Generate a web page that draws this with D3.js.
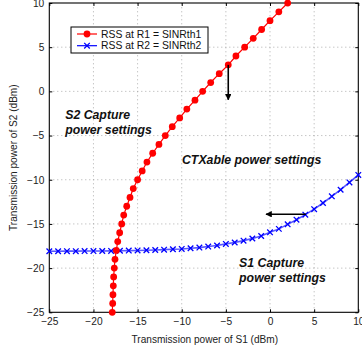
<!DOCTYPE html>
<html lang="en">
<head>
<meta charset="utf-8">
<title>Capture regions</title>
<script src="https://cdn.jsdelivr.net/npm/d3@7"></script>
<style>
  body { margin: 0; background: #fff; }
  svg { display: block; font-family: "Liberation Sans", Arial, sans-serif; }
  .grid line { stroke: #999; stroke-dasharray: 1,3; stroke-width: 0.8; }
  .note { font-weight: bold; font-style: italic; font-size: 12.3px; fill: #111; }
</style>
</head>
<body>
<svg class="chart"></svg>
<script>
const redS2 = d3.range(-25, 11, 1);
const redS1 = [-17.87, -17.82, -17.79, -17.75, -17.71, -17.64, -17.56, -17.41, -17.25, -17.03,
               -16.8, -16.57, -16.23, -15.86, -15.49, -15.0, -14.48, -13.94, -13.29, -12.58,
               -11.86, -11.07, -10.23, -9.42, -8.5, -7.63, -6.72, -5.75, -4.73, -3.86,
               -2.87, -1.9, -0.95, 0.0, 1.0, 2.0];

// blue curve: S1 power (x) every 1 dB, S2 power
const blueS1 = d3.range(-25, 11, 1);
const blueS2 = [-18.09, -18.09, -18.08, -18.08, -18.07, -18.07, -18.06, -18.05, -18.04, -18.02,
                -18.0, -17.98, -17.95, -17.91, -17.87, -17.83, -17.75, -17.68, -17.56, -17.44,
                -17.26, -17.1, -16.89, -16.65, -16.37, -15.95, -15.56, -15.05, -14.52, -13.95,
                -13.33, -12.63, -11.88, -11.13, -10.3, -9.45];

const xTicks = [-25, -20, -15, -10, -5, 0, 5, 10];
const yTicks = [-25, -20, -15, -10, -5, 0, 5, 10];
const legendLabels = ["RSS at R1 = SINRth1", "RSS at R2 = SINRth2"];

const W = 362, H = 354;
const m = {left: 49.3, right: 3.7, top: 3, bottom: 41.7};

const svg = d3.select(".chart").attr("width", W).attr("height", H);

const x = d3.scaleLinear().domain([-25, 10]).range([m.left, W - m.right]);
const y = d3.scaleLinear().domain([-25, 10]).range([H - m.bottom, m.top]);

// grid
const grid = svg.append("g").attr("class", "grid");
grid.selectAll(".gx").data(xTicks.slice(1, -1)).enter().append("line")
  .attr("x1", d => x(d)).attr("x2", d => x(d))
  .attr("y1", y(-25)).attr("y2", y(10));
grid.selectAll(".gy").data(yTicks.slice(1, -1)).enter().append("line")
  .attr("y1", d => y(d)).attr("y2", d => y(d))
  .attr("x1", x(-25)).attr("x2", x(10));

// axes (ticks pointing inward, matlab style)
const fmt = d3.format("");
const axB = svg.append("g").attr("transform", `translate(0,${y(-25)})`)
  .call(d3.axisBottom(x).tickValues(xTicks).tickSize(-3).tickPadding(5).tickFormat(fmt));
const axL = svg.append("g").attr("transform", `translate(${x(-25)},0)`)
  .call(d3.axisLeft(y).tickValues(yTicks).tickSize(-3).tickPadding(5).tickFormat(fmt));
const axT = svg.append("g").attr("transform", `translate(0,${y(10)})`)
  .call(d3.axisTop(x).tickValues(xTicks).tickSize(-3).tickFormat(""));
const axR = svg.append("g").attr("transform", `translate(${x(10)},0)`)
  .call(d3.axisRight(y).tickValues(yTicks).tickSize(-3).tickFormat(""));
[axB, axL, axT, axR].forEach(a => {
  a.select(".domain").remove();
  a.selectAll("line").attr("stroke", "#000");
  a.selectAll("text").attr("font-size", 10.2).attr("fill", "#222")
    .attr("font-family", "Liberation Sans, Arial, sans-serif");
});
axB.selectAll("text").attr("dy", "0.8em");

svg.append("rect")
  .attr("x", x(-25)).attr("y", y(10))
  .attr("width", x(10) - x(-25)).attr("height", y(-25) - y(10))
  .attr("fill", "none").attr("stroke", "#000").attr("stroke-width", 1.1);

// axis titles
svg.append("text")
  .attr("x", (x(-25) + x(10)) / 2 + 1).attr("y", 343)
  .attr("text-anchor", "middle").attr("font-size", 10.1).attr("fill", "#222")
  .text("Transmission power of S1 (dBm)");
svg.append("text")
  .attr("transform", `translate(17,${(y(-25) + y(10)) / 2}) rotate(-90)`)
  .attr("text-anchor", "middle").attr("font-size", 10.1).attr("fill", "#222")
  .text("Transmission power of S2 (dBm)");

// curves
const redPts = redS2.map((v, i) => [redS1[i], v]);
const bluePts = blueS1.map((v, i) => [v, blueS2[i]]);
const line = d3.line().x(d => x(d[0])).y(d => y(d[1]));

svg.append("path").datum(bluePts).attr("d", line)
  .attr("fill", "none").attr("stroke", "#3a3aff").attr("stroke-width", 1.6).attr("stroke-opacity", 0.85);
const cross = d3.symbol().type(d3.symbolX).size(22);
svg.append("g").selectAll("path").data(bluePts).enter().append("path")
  .attr("transform", d => `translate(${x(d[0])},${y(d[1])})`)
  .attr("d", cross).attr("fill", "none").attr("stroke", "#0000ff").attr("stroke-width", 1.3);

svg.append("path").datum(redPts).attr("d", line)
  .attr("fill", "none").attr("stroke", "#ff0000").attr("stroke-width", 1.2);
svg.append("g").selectAll("circle").data(redPts).enter().append("circle")
  .attr("cx", d => x(d[0])).attr("cy", d => y(d[1])).attr("r", 3.4)
  .attr("fill", "#ff0000");

// arrows
svg.append("defs").append("marker")
  .attr("id", "head").attr("viewBox", "0 0 10 10").attr("refX", 9).attr("refY", 5)
  .attr("markerWidth", 4).attr("markerHeight", 4).attr("orient", "auto")
  .append("path").attr("d", "M0,0L10,5L0,10Z").attr("fill", "#000");
const arrows = [[[-4.73, 3], [-4.73, -0.95]], [[4.07, -13.9], [-0.45, -13.9]]];
svg.append("g").selectAll("line").data(arrows).enter().append("line")
  .attr("x1", d => x(d[0][0])).attr("y1", d => y(d[0][1]))
  .attr("x2", d => x(d[1][0])).attr("y2", d => y(d[1][1]))
  .attr("stroke", "#000").attr("stroke-width", 1.6).attr("marker-end", "url(#head)");

// region notes
const notes = [
  {t: ["S2 Capture", "power settings"], x: -23.2, y: -3.15},
  {t: ["CTXable power settings"], x: -9.97, y: -8.25},
  {t: ["S1 Capture", "power settings"], x: -3.5, y: -19.9}
];
notes.forEach(n => {
  const t = svg.append("text").attr("class", "note")
    .attr("x", x(n.x)).attr("y", y(n.y));
  n.t.forEach((s, i) => t.append("tspan").attr("x", x(n.x)).attr("dy", i ? 15 : 0).text(s));
});

// legend
const lg = svg.append("g").attr("transform", "translate(71,27)");
lg.append("rect").attr("width", 137).attr("height", 26)
  .attr("fill", "#fff").attr("stroke", "#000").attr("stroke-width", 1);
const rows = lg.selectAll(".row").data(legendLabels).enter().append("g")
  .attr("transform", (d, i) => `translate(0,${7 + i * 11.7})`);
rows.append("line").attr("x1", 6).attr("x2", 26)
  .attr("stroke", (d, i) => i ? "#0000ff" : "#ff0000").attr("stroke-width", 1.2);
rows.filter((d, i) => i === 0).append("circle").attr("cx", 16).attr("r", 3.4).attr("fill", "#ff0000");
rows.filter((d, i) => i === 1).append("path").attr("transform", "translate(16,0)")
  .attr("d", cross).attr("fill", "none").attr("stroke", "#0000ff").attr("stroke-width", 1.3);
rows.append("text").attr("x", 30).attr("dy", "0.35em")
  .attr("font-size", 10.4).attr("fill", "#111").text(d => d);
</script>
</body>
</html>
